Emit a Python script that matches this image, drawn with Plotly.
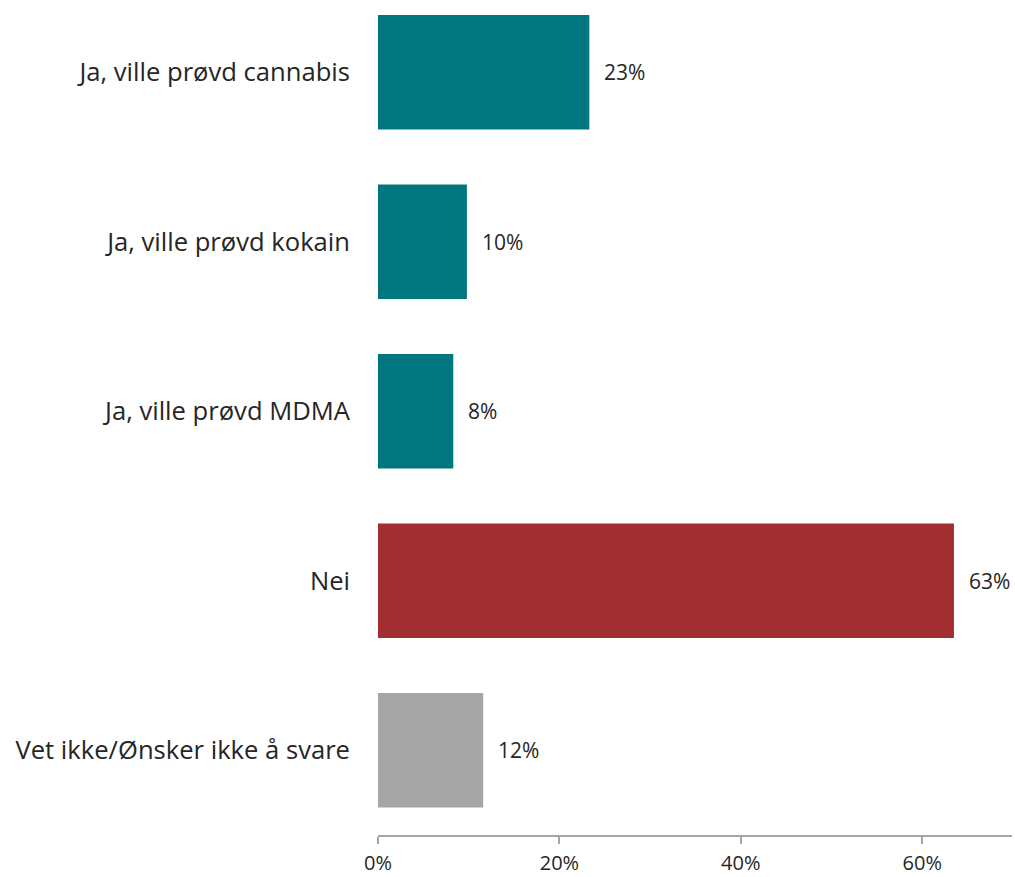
import plotly.graph_objects as go

categories = ["Ja, ville prøvd cannabis", "Ja, ville prøvd kokain", "Ja, ville prøvd MDMA", "Nei", "Vet ikke/Ønsker ikke å svare"]
values = [23.3, 9.8, 8.3, 63.5, 11.6]
labels = ["23%", "10%", "8%", "63%", "12%"]
colors = ["#00767E", "#00767E", "#00767E", "#A32E31", "#A6A6A6"]
x_ticks = [0, 20, 40, 60]
x_tick_labels = ["0%", "20%", "40%", "60%"]

font = "Open Sans"

fig = go.Figure(go.Bar(
    x=values, y=categories, orientation="h",
    marker=dict(color=colors, line=dict(width=0)),
    width=0.675, hoverinfo="skip",
))

for c, v, t in zip(categories, values, labels):
    fig.add_annotation(x=v, y=c, text=t, showarrow=False, xanchor="left",
                       xshift=13, font=dict(family=font, size=21, color="#262626"))

fig.update_layout(
    width=1015, height=877,
    margin=dict(l=378, r=3, t=0, b=42),
    paper_bgcolor="white", plot_bgcolor="white",
    showlegend=False,
    xaxis=dict(range=[0, 69.9], tickvals=x_ticks, ticktext=x_tick_labels,
               showgrid=False, zeroline=False, showline=True, automargin=False,
               linecolor="#A6A6A6", linewidth=2, ticks="outside", ticklen=7,
               tickcolor="#A6A6A6", tickwidth=2, ticklabelstandoff=2,
               tickfont=dict(family=font, size=20, color="#262626")),
    yaxis=dict(range=[4.5, -0.426], showgrid=False, zeroline=False,
               showline=False, ticks="", ticklabelstandoff=27, automargin=False,
               tickfont=dict(family=font, size=25.6, color="#262626")),
)

fig.write_html("out.html",
               config={"displayModeBar": False},
               post_script="document.body.style.margin='0';document.body.style.overflow='hidden';")
